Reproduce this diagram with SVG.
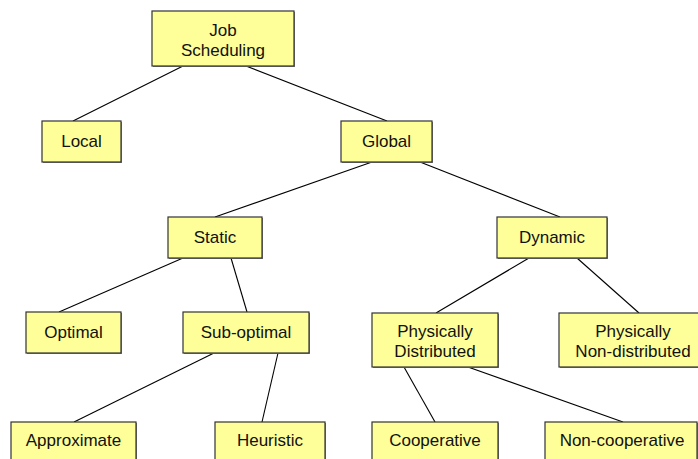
<svg xmlns="http://www.w3.org/2000/svg" width="698" height="459" viewBox="0 0 698 459">
  <style>
    .box { fill: #FFFF99; stroke: #333333; stroke-width: 1.2; }
    .shadow { fill: #808080; }
    .label { font-family: "Liberation Sans", Arial, sans-serif; font-size: 17px; fill: #111111; text-anchor: middle; }
    .edge { stroke: #000000; stroke-width: 1.1; fill: none; }
  </style>
  <rect width="698" height="459" fill="#FFFFFF"/>

  <g id="connectors">
    <line class="edge" x1="183" y1="66" x2="73" y2="121"/>
    <line class="edge" x1="246" y1="66" x2="387" y2="121"/>
    <line class="edge" x1="372" y1="162" x2="215" y2="217"/>
    <line class="edge" x1="420" y1="162" x2="560" y2="217"/>
    <line class="edge" x1="183" y1="258" x2="59" y2="312"/>
    <line class="edge" x1="231" y1="258" x2="247" y2="312"/>
    <line class="edge" x1="529" y1="258" x2="436" y2="313"/>
    <line class="edge" x1="577" y1="258" x2="639" y2="313"/>
    <line class="edge" x1="214" y1="353" x2="74" y2="422"/>
    <line class="edge" x1="278" y1="353" x2="262" y2="422"/>
    <line class="edge" x1="404" y1="367" x2="435" y2="422"/>
    <line class="edge" x1="468" y1="367" x2="623" y2="422"/>
  </g>

  <g id="job-scheduling">
    <rect class="shadow" x="153" y="12" width="142" height="55"/>
    <rect class="box" x="152" y="11" width="142" height="55"/>
    <text class="label" x="223" y="36">Job</text>
    <text class="label" x="223" y="56">Scheduling</text>
  </g>

  <g id="local">
    <rect class="shadow" x="43" y="122" width="79" height="41"/>
    <rect class="box" x="42" y="121" width="79" height="41"/>
    <text class="label" x="81.5" y="147">Local</text>
  </g>

  <g id="global">
    <rect class="shadow" x="342" y="122" width="91" height="41"/>
    <rect class="box" x="341" y="121" width="91" height="41"/>
    <text class="label" x="386.5" y="147">Global</text>
  </g>

  <g id="static">
    <rect class="shadow" x="169" y="218" width="94" height="41"/>
    <rect class="box" x="168" y="217" width="94" height="41"/>
    <text class="label" x="215" y="243">Static</text>
  </g>

  <g id="dynamic">
    <rect class="shadow" x="498" y="218" width="110" height="41"/>
    <rect class="box" x="497" y="217" width="110" height="41"/>
    <text class="label" x="552" y="243">Dynamic</text>
  </g>

  <g id="optimal">
    <rect class="shadow" x="27" y="313" width="95" height="41"/>
    <rect class="box" x="26" y="312" width="95" height="41"/>
    <text class="label" x="73.5" y="338">Optimal</text>
  </g>

  <g id="sub-optimal">
    <rect class="shadow" x="184" y="313" width="126" height="41"/>
    <rect class="box" x="183" y="312" width="126" height="41"/>
    <text class="label" x="246" y="338">Sub-optimal</text>
  </g>

  <g id="physically-distributed">
    <rect class="shadow" x="373" y="314" width="126" height="54"/>
    <rect class="box" x="372" y="313" width="126" height="54"/>
    <text class="label" x="435" y="337">Physically</text>
    <text class="label" x="435" y="357">Distributed</text>
  </g>

  <g id="physically-non-distributed">
    <rect class="shadow" x="560" y="314" width="148" height="54"/>
    <rect class="box" x="559" y="313" width="148" height="54"/>
    <text class="label" x="633" y="337">Physically</text>
    <text class="label" x="633" y="357">Non-distributed</text>
  </g>

  <g id="approximate">
    <rect class="shadow" x="12" y="423" width="125" height="45"/>
    <rect class="box" x="11" y="422" width="125" height="45"/>
    <text class="label" x="73.5" y="446">Approximate</text>
  </g>

  <g id="heuristic">
    <rect class="shadow" x="216" y="423" width="110" height="45"/>
    <rect class="box" x="215" y="422" width="110" height="45"/>
    <text class="label" x="270" y="446">Heuristic</text>
  </g>

  <g id="cooperative">
    <rect class="shadow" x="373" y="423" width="126" height="45"/>
    <rect class="box" x="372" y="422" width="126" height="45"/>
    <text class="label" x="435" y="446">Cooperative</text>
  </g>

  <g id="non-cooperative">
    <rect class="shadow" x="546" y="423" width="152" height="45"/>
    <rect class="box" x="545" y="422" width="152" height="45"/>
    <text class="label" x="622" y="446">Non-cooperative</text>
  </g>
</svg>
